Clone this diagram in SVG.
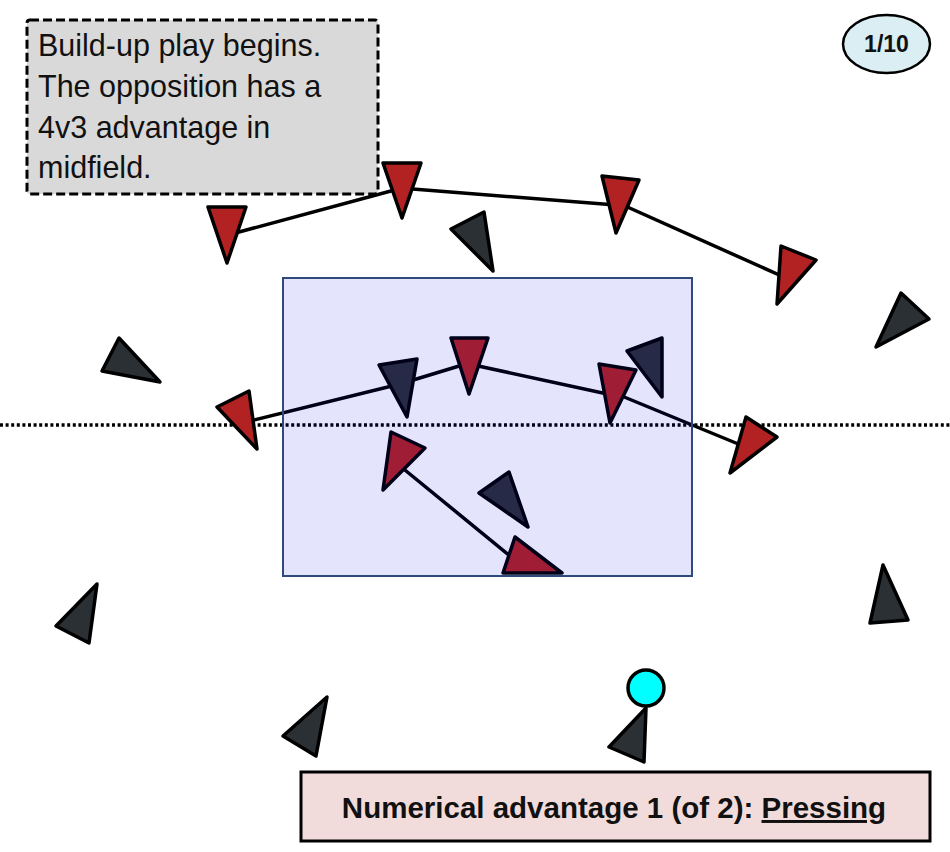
<svg xmlns="http://www.w3.org/2000/svg" width="950" height="852" viewBox="0 0 950 852">
<style>
.red{fill:#b22222;stroke:#000;stroke-width:3.5;stroke-linejoin:round}
.dark{fill:#2b3035;stroke:#000;stroke-width:3.5;stroke-linejoin:round}
.conn{stroke:#000;stroke-width:3.5;fill:none;stroke-linecap:round}
.note{font-family:"Liberation Sans",Arial,sans-serif;font-size:30.5px;fill:#111}
.bold{font-family:"Liberation Sans",Arial,sans-serif;font-weight:bold;fill:#111}
</style>
<rect width="950" height="852" fill="#fff"/>
<line id="halfway" x1="0" y1="425" x2="950" y2="425" stroke="#000" stroke-width="3.5" stroke-dasharray="3 2.6"/>
<g id="connectors">
<line class="conn" x1="228" y1="235" x2="402" y2="188"/>
<line class="conn" x1="400" y1="188" x2="616" y2="205"/>
<line class="conn" x1="614" y1="201" x2="786" y2="278"/>
<line class="conn" x1="250" y1="421" x2="400" y2="384"/>
<line class="conn" x1="400" y1="384" x2="469" y2="363"/>
<line class="conn" x1="469" y1="364" x2="612" y2="395"/>
<line class="conn" x1="612" y1="392" x2="748" y2="448"/>
<line class="conn" x1="400" y1="466" x2="515" y2="560"/>
</g>
<g id="red1"><polygon class="red" points="208,207 246,207 227,263"/></g>
<g id="red2"><polygon class="red" points="383,163 421,163 402,218"/></g>
<g id="red3"><polygon class="red" points="602,176 639,180 616,233"/></g>
<g id="red4"><polygon class="red" points="781,246 816,260 777,304"/></g>
<g id="red5"><polygon class="red" points="217,407 249,391 257,449"/></g>
<g id="red6"><polygon class="red" points="451,338 488,338 469,394"/></g>
<g id="red7"><polygon class="red" points="599,364 636,370 610,423"/></g>
<g id="red8"><polygon class="red" points="746,417 777,437 730,473"/></g>
<g id="red9"><polygon class="red" points="391,432 425,448 383,490"/></g>
<g id="red10"><polygon class="red" points="515,537 562,573 503,573"/></g>
<g id="opp1"><polygon class="dark" points="451,229 484,212 493,271"/></g>
<g id="opp2"><polygon class="dark" points="119,338 102,371 160,382"/></g>
<g id="opp3"><polygon class="dark" points="97,584 56,626 89,643"/></g>
<g id="opp4"><polygon class="dark" points="901,293 929,319 876,347"/></g>
<g id="opp5"><polygon class="dark" points="883,565 908,620 870,623"/></g>
<g id="opp6"><polygon class="dark" points="327,697 283,736 316,756"/></g>
<g id="opp7"><polygon class="dark" points="379,365 417,359 407,417"/></g>
<g id="opp8"><polygon class="dark" points="627,351 662,338 662,397"/></g>
<g id="opp9"><polygon class="dark" points="509,472 528,527 479,493"/></g>
<g id="opp10"><polygon class="dark" points="646,708 609,747 644,762"/></g>
<g id="ball"><circle cx="646" cy="688" r="18" fill="#00ffff" stroke="#000" stroke-width="3.5"/></g>
<g id="midfield-zone"><rect x="283" y="278" width="409" height="298" fill="#0000e2" fill-opacity="0.105" stroke="#2e4a7a" stroke-width="2"/></g>
<g id="note">
<rect x="27" y="20" width="351" height="174" rx="3" fill="#d9d9d9" stroke="#000" stroke-width="3" stroke-dasharray="9 4"/>
<text class="note" x="38" y="56">Build-up play begins.</text>
<text class="note" x="38" y="97">The opposition has a</text>
<text class="note" x="38" y="138">4v3 advantage in</text>
<text class="note" x="38" y="178">midfield.</text>
</g>
<g id="badge">
<ellipse cx="886.5" cy="44" rx="43.5" ry="29" fill="#daeef3" stroke="#000" stroke-width="2.5"/>
<text class="bold" x="886.5" y="52" font-size="23" text-anchor="middle">1/10</text>
</g>
<g id="title">
<rect x="301" y="772" width="629" height="69" fill="#f2dcdb" stroke="#000" stroke-width="3"/>
<text class="bold" x="614" y="818" font-size="29.5" text-anchor="middle">Numerical advantage 1 (of 2): <tspan text-decoration="underline">Pressing</tspan></text>
</g>
</svg>
